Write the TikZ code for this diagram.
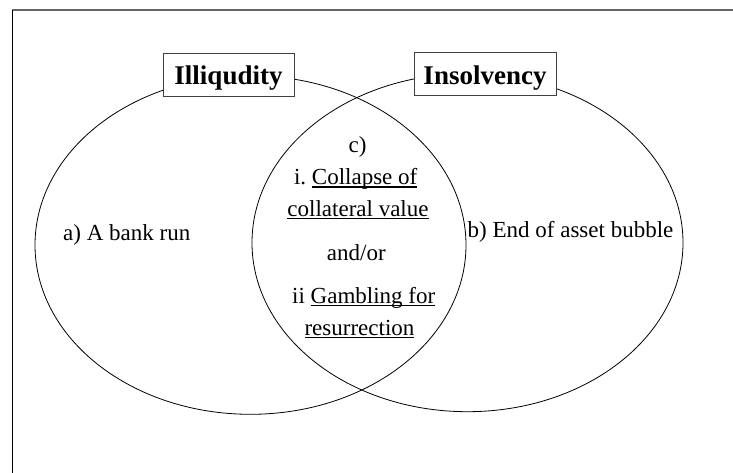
\documentclass[tikz,border=0pt]{standalone}
\usepackage{fontspec}
\setmainfont{Liberation Serif}
\frenchspacing
% underline at a fixed depth below the baseline, crossing descenders
\newcommand\wordul[1]{\setbox0=\hbox{#1}\rlap{\rule[-2.6pt]{\wd0}{1.1pt}}\box0}
\begin{document}
\begin{tikzpicture}[x=1pt,y=-1pt,
  circ/.style={line width=0.8pt,draw=black},
  titlebox/.style={draw=black!75,line width=0.8pt,fill=white,inner sep=0pt,
    text height=32pt,text depth=11pt,anchor=base,
    font=\fontsize{27}{30}\selectfont\bfseries},
  txt/.style={inner sep=0pt,anchor=base,font=\fontsize{23}{27}\selectfont},
  txtl/.style={txt,anchor=base west}]
\useasboundingbox (0,0) rectangle (733,473);
\fill[white] (0,0) rectangle (733,473);
% frame
\draw[line width=1.5pt,draw=black!60] (12,10) -- (733,10);
\draw[line width=0.8pt,draw=black] (12,10) -- (12,473);
% the two sets
\draw[circ] (250.5,245) ellipse [x radius=215.5,y radius=169.3];
\draw[circ] (467.5,242.7) ellipse [x radius=215.5,y radius=169];
% set titles
\node[titlebox,minimum width=131pt] (illiq) at (228.5,85) {Illiqudity};
\node[titlebox,minimum width=142pt] (insolv) at (485,84.3) {Insolvency};
% region texts
\node[txtl] (runs) at (63,240) {a) A bank run};
\node[txtl] (bubble) at (467.5,237) {b) End of asset bubble};
\node[txt] (both) at (357.6,153) {c)};
\node[txt] (collapse) at (355.7,185) {i. \wordul{Collapse of}};
\node[txt] (collat) at (358,216) {\wordul{collateral value}};
\node[txt] (andor) at (356.3,260.7) {and/or};
\node[txt] (gamble) at (363.7,303) {ii \wordul{Gambling for}};
\node[txt] (resur) at (359.5,335) {\wordul{resurrection}};
\end{tikzpicture}
\end{document}
